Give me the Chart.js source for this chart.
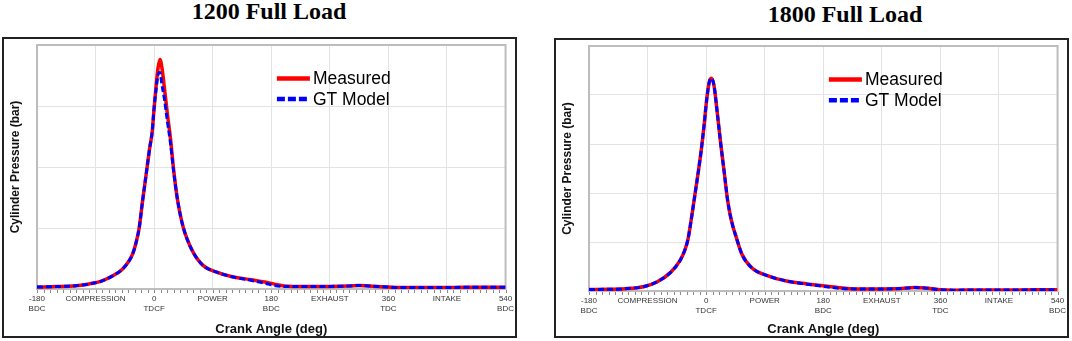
<!DOCTYPE html>
<html lang="en">
<head>
  <meta charset="UTF-8">
  <title>Cylinder Pressure - 1200 / 1800 Full Load</title>
  <script src="https://cdn.jsdelivr.net/npm/chart.js"></script>
  <style>
    body { margin: 0; background: #fff; width: 1072px; height: 341px; position: relative; overflow: hidden; }
    .title { position: absolute; font-family: "Liberation Serif", "Times New Roman", serif; font-weight: bold; font-size: 24px; color: #000; white-space: nowrap; transform: translateX(-50%); }
    .box { position: absolute; border: 2px solid #222; background: #fff; }
    .box canvas { position: absolute; left: 0; top: 0; }
  </style>
</head>
<body>
  <div class="title" style="left:269px; top:-2px;">1200 Full Load</div>
  <div class="title" style="left:845px; top:1px;">1800 Full Load</div>
  <div class="box" style="left:2px; top:37px; width:511px; height:297px;"><canvas id="c1" width="511" height="297"></canvas></div>
  <div class="box" style="left:554px; top:38px; width:511px; height:296px;"><canvas id="c2" width="511" height="296"></canvas></div>

  <script>
    // crank angle axis labels
    const tickAngles = [-180, -90, 0, 90, 180, 270, 360, 450, 540];
    const tickTop = ["-180", "COMPRESSION", "0", "POWER", "180", "EXHAUST", "360", "INTAKE", "540"];
    const tickBottom = ["BDC", "", "TDCF", "", "BDC", "", "TDC", "", "BDC"];

    // 1200 rpm full load (bar)
    const angles1200 = [-180, -150, -120, -100, -80, -65, -50, -40, -33, -28, -23, -18, -12, -7, -3, 0, 3, 6, 9, 12, 16, 20, 25, 30, 35, 40, 45, 50, 60, 75, 95, 120, 150, 170, 185, 200, 230, 270, 300, 315, 330, 360, 380, 420, 480, 540];
    const measured1200 = [1.3, 1.6, 2.2, 3.3, 5.3, 8.3, 12.5, 17.5, 23, 30, 40, 57, 76, 92, 103, 119, 133, 145, 150.5, 145, 131, 116, 99, 78, 61, 49, 40, 33.5, 24, 15.5, 11.2, 8, 6, 4.6, 3.2, 2.0, 1.6, 1.7, 2.0, 2.3, 2.0, 1.3, 1.0, 1.0, 1.1, 1.2];
    const gtModel1200 = [1.3, 1.6, 2.2, 3.3, 5.3, 8.3, 12.5, 17.5, 23, 30, 40, 57, 76, 92, 103, 119, 131, 140.5, 142, 134, 124, 111, 96, 77, 61, 49, 40, 33.5, 24, 15.5, 11.2, 8, 5.6, 3.8, 2.3, 1.7, 1.6, 1.7, 2.0, 2.3, 2.0, 1.3, 1.0, 1.0, 1.1, 1.2];

    // 1800 rpm full load
    const angles1800 = [-180, -150, -125, -95, -75, -55, -40, -33, -28, -23, -16, -8, -3, 1, 5, 8, 12, 17, 22, 28, 33, 37, 41, 45, 55, 70, 95, 125, 155, 180, 200, 220, 260, 300, 320, 340, 360, 380, 420, 480, 540];
    const measured1800 = [1.2, 1.4, 1.8, 3.7, 7.6, 15, 25, 33, 42, 58, 83, 113, 136, 157, 171, 173.7, 168, 146, 122, 96, 74, 62, 53, 46, 30, 19, 12.3, 8, 5.8, 4.3, 3.0, 1.9, 1.6, 2.0, 2.8, 2.3, 1.0, 0.7, 0.8, 0.9, 1.0];
    const gtModel1800 = [1.2, 1.4, 1.8, 3.7, 7.6, 15, 25, 33, 42, 58, 83, 113, 136, 157, 171, 173.5, 168, 146, 122, 96, 74, 62, 53, 46, 30, 19, 12.3, 8, 5.6, 3.8, 2.5, 1.8, 1.6, 2.0, 2.8, 2.3, 1.0, 0.7, 0.8, 0.9, 1.0];

    const sans = "Arial, 'Liberation Sans', sans-serif";

    // plot frame + legend drawn inside the chart area
    const framePlugin = {
      id: "frame",
      beforeDatasetsDraw(chart) {
        const a = chart.chartArea, ctx = chart.ctx;
        ctx.save();
        ctx.strokeStyle = "#bdbdbd";
        ctx.lineWidth = 2;
        ctx.strokeRect(a.left, a.top, a.right - a.left, a.bottom - a.top);
        // minor tick marks under the crank angle axis
        ctx.strokeStyle = "#8a8a8a";
        ctx.lineWidth = 1;
        const xs = chart.scales.x;
        ctx.beginPath();
        for (const t of xs.ticks) {
          const px = Math.round(xs.getPixelForValue(t.value)) + 0.5;
          ctx.moveTo(px, a.bottom + 1);
          ctx.lineTo(px, a.bottom + 4);
        }
        ctx.stroke();
        ctx.restore();
      },
      afterDraw(chart) {
        const a = chart.chartArea, ctx = chart.ctx;
        const rows = [0.137, 0.221];
        ctx.save();
        chart.data.datasets.forEach((ds, i) => {
          const x0 = a.left + 0.512 * (a.right - a.left);
          const y = a.top + rows[i] * (a.bottom - a.top);
          ctx.strokeStyle = ds.borderColor;
          ctx.lineWidth = 4.5;
          ctx.setLineDash(ds.borderDash ? [8, 3] : []);
          ctx.beginPath();
          ctx.moveTo(x0, y);
          ctx.lineTo(x0 + 33, y);
          ctx.stroke();
          ctx.setLineDash([]);
          ctx.fillStyle = "#000";
          ctx.font = "17.5px " + sans;
          ctx.textBaseline = "middle";
          ctx.fillText(ds.label, x0 + 36, y + 1);
        });
        ctx.restore();
      }
    };

    function makeChart(id, angles, measured, gt, yMax, xHeight) {
      return new Chart(document.getElementById(id), {
        type: "line",
        data: {
          datasets: [
            {
              label: "Measured",
              data: angles.map((a, i) => ({ x: a, y: measured[i] })),
              borderColor: "#ff0000",
              borderWidth: 3.5,
              pointRadius: 0,
              order: 2,
              cubicInterpolationMode: "monotone"
            },
            {
              label: "GT Model",
              data: angles.map((a, i) => ({ x: a, y: gt[i] })),
              borderColor: "#0000ff",
              borderWidth: 3,
              borderDash: [6, 3],
              pointRadius: 0,
              order: 1,
              cubicInterpolationMode: "monotone"
            }
          ]
        },
        options: {
          responsive: false,
          animation: false,
          devicePixelRatio: 1,
          layout: { padding: { left: 0, top: 6, right: 6, bottom: 0 } },
          plugins: { legend: { display: false }, tooltip: { enabled: false } },
          scales: {
            x: {
              type: "linear",
              min: -180,
              max: 540,
              afterFit: s => { s.height = xHeight; },
              afterBuildTicks: s => {
                const t = [];
                for (let v = -180; v <= 540; v += 10) t.push({ value: v });
                s.ticks = t;
              },
              ticks: {
                autoSkip: false,
                maxRotation: 0,
                minRotation: 0,
                padding: 1,
                color: "#333",
                font: { family: sans, size: 8 },
                callback: v => {
                  const k = tickAngles.indexOf(v);
                  if (k < 0) return "";
                  return tickBottom[k] ? [tickTop[k], tickBottom[k]] : tickTop[k];
                }
              },
              grid: {
                color: c => (c.tick && tickAngles.includes(c.tick.value)) ? "#e3e3e3" : "rgba(0,0,0,0)",
                tickColor: "rgba(0,0,0,0)",
                tickLength: 4,
                lineWidth: 1
              },
              border: { display: false },
              title: {
                display: true,
                text: "Crank Angle (deg)",
                color: "#111",
                font: { family: sans, size: 13, weight: "bold" },
                padding: { top: 0, bottom: -1 }
              }
            },
            y: {
              min: 0,
              max: yMax,
              afterFit: s => { s.width = 33; },
              ticks: { display: false, stepSize: 40 },
              grid: { color: "#e3e3e3", drawTicks: false },
              border: { display: false },
              title: {
                display: true,
                text: "Cylinder Pressure (bar)",
                color: "#111",
                font: { family: sans, size: 12, weight: "bold" },
                padding: { top: 4, bottom: 0 }
              }
            }
          }
        },
        plugins: [framePlugin]
      });
    }

    makeChart("c1", angles1200, measured1200, gtModel1200, 160, 47);
    makeChart("c2", angles1800, measured1800, gtModel1800, 200, 45);
  </script>
</body>
</html>
